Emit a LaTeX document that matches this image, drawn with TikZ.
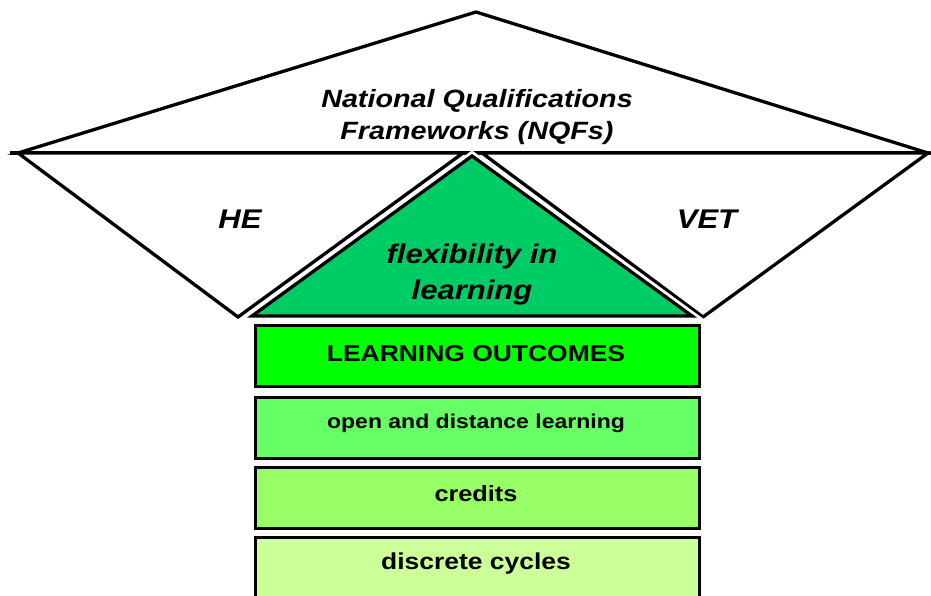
\documentclass[tikz,border=0pt]{standalone}
\usepackage{fontspec}
\setmainfont[FakeStretch=1.15]{Liberation Sans}
\definecolor{trigreen}{HTML}{00CC66}
\definecolor{boxA}{HTML}{00FF00}
\definecolor{boxB}{HTML}{66FF66}
\definecolor{boxC}{HTML}{99FF66}
\definecolor{boxD}{HTML}{CCFF99}
\tikzset{
  shape line/.style={draw=black, line width=3.3pt, line join=miter},
  layerbox/.style={draw=black, line width=3.3pt, minimum width=444pt, minimum height=61pt, anchor=north west, inner sep=0pt},
  boxtext/.style={font=\bfseries\fontsize{#1}{#1}\selectfont, inner sep=0pt},
  bigtext/.style={font=\bfseries\itshape\fontsize{#1}{32}\selectfont, align=center},
}
\begin{document}
\begin{tikzpicture}[x=1pt,y=-1pt]
\useasboundingbox (0,0) rectangle (931,596);
% top triangle
\draw[shape line, fill=white] (18,153) -- (476,12) -- (928,153) -- cycle;
\draw[line width=3.3pt] (10,153) -- (930,153);
% side Vs
\draw[shape line, fill=white] (18,153) -- (238,317) -- (463,153) -- cycle;
\draw[shape line, fill=white] (928,153) -- (703,317) -- (482,153) -- cycle;
% green triangle with white gap
\draw[draw=white, line width=9pt, line join=miter, fill=trigreen] (472,156) -- (252,316) -- (692,316) -- cycle;
\draw[shape line, fill=trigreen] (472,156) -- (252,316) -- (692,316) -- cycle;
% texts
\node[bigtext=25] (nqf) at (477,117) {National Qualifications\\Frameworks (NQFs)};
\node[bigtext=27] (he) at (240,219) {HE};
\node[bigtext=27] (vet) at (707,219) {VET};
\node[font=\bfseries\itshape\fontsize{27}{36}\selectfont, align=center] (flex) at (472,275) {flexibility in\\learning};
% boxes
\node[layerbox, fill=boxA] (lo) at (253.5,323.5) {};
\node[layerbox, fill=boxB] (odl) at (253.5,395.5) {};
\node[layerbox, fill=boxC] (cr) at (253.5,465.5) {};
\node[layerbox, fill=boxD, minimum height=70pt] (dc) at (253.5,535.5) {};
\node[boxtext=23] (lot) at (476,354) {LEARNING OUTCOMES};
\node[boxtext=20] (odlt) at (476,423) {open and distance learning};
\node[boxtext=22] (crt) at (476,494) {credits};
\node[boxtext=23] (dct) at (476,564) {discrete cycles};
\end{tikzpicture}
\end{document}
